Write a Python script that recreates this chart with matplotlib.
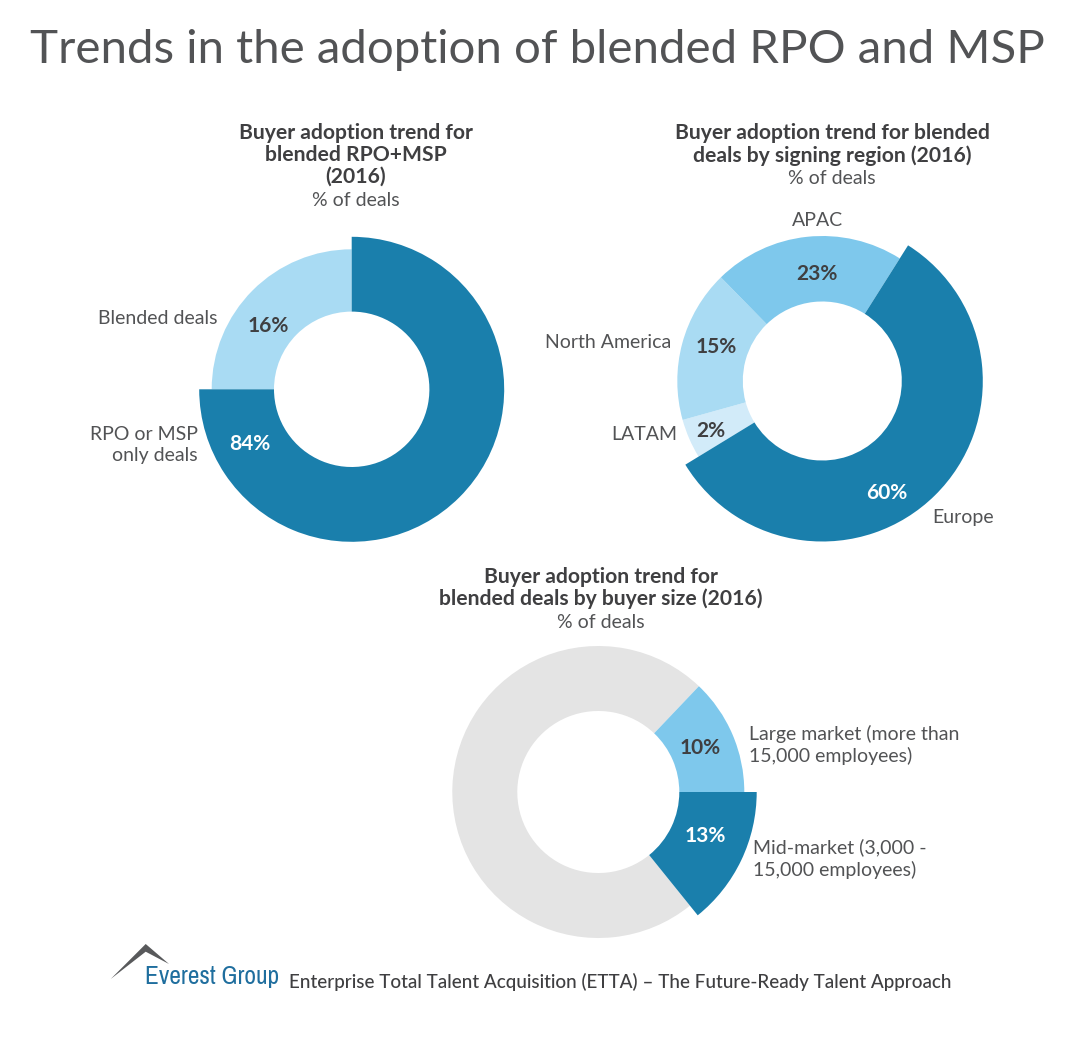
import matplotlib
matplotlib.use("Agg")
import matplotlib.pyplot as plt
from matplotlib.patches import Polygon
from matplotlib import font_manager as fm

W, H = 1083, 1048
DARK, LIGHT, MID, PALE, GREY = "#1A7FAC", "#A9DBF3", "#7EC8EC", "#D2EBF9", "#E4E4E4"
INK, SOFT = "#3F3F41", "#525355"

# Arc shares as drawn in the picture (percent of the circle) and the printed labels
buyer_shares = [75.0, 25.0]
buyer_labels = ["84%", "16%"]
region_names = ["Europe", "LATAM", "North America", "APAC"]
region_shares = [57.3, 4.4, 17.0, 21.3]
region_labels = ["60%", "2%", "15%", "23%"]
size_shares = [14.2, 72.9, 12.9]
size_labels = ["13%", "", "10%"]

plt.rcParams["font.family"] = ["Lato", "DejaVu Sans"]
fig = plt.figure(figsize=(W / 100, H / 100), dpi=100, facecolor="white")
ax = fig.add_axes([0, 0, 1, 1])


def donut(values, colors, radii, inner, cx, cy, start):
    wedges, _ = ax.pie(values, colors=colors, center=(cx, H - cy), startangle=start,
                       counterclock=False, frame=True)
    for w, r in zip(wedges, radii):
        w.set_radius(r)
        w.set_width(r - inner)
        w.set_linewidth(0)
    return wedges


def txt(x, y, s, size=14.0, color=SOFT, ha="center", weight="regular", **kw):
    return ax.text(x, H - y, s, fontsize=size, color=color, ha=ha, va="center", fontweight=weight, **kw)


def head(cx, rows):
    for y, s, b in rows:
        if b:
            txt(cx, y + 1, s, size=15.2, color=INK, weight="bold")
        else:
            txt(cx, y + 1, s)


def fit_width(t, target):
    r = fig.canvas.get_renderer()
    t.set_fontsize(t.get_fontsize() * target / t.get_window_extent(r).width)


w1 = donut(buyer_shares, [DARK, LIGHT], [152.5, 140], 77.7, 351.7, 389.3, 90)
w2 = donut(region_shares, [DARK, PALE, LIGHT, MID], [160.5, 145, 145, 145], 79.5, 822.3, 381, 90 - 32.3)
w3 = donut(size_shares, [DARK, GREY, MID], [158.4, 146, 146], 81, 598.3, 792, 0)
for w in w1[:1] + w2[:1] + w3[:1]:
    w.set_zorder(3)

ax.set_xlim(0, W)
ax.set_ylim(0, H)
ax.set_aspect("equal")
ax.axis("off")

fit_width(txt(537, 50, "Trends in the adoption of blended RPO and MSP", size=35), 1012)

head(356, [(132, "Buyer adoption trend for", True), (154, "blended RPO+MSP", True),
           (176, "(2016)", True), (199, "% of deals", False)])
head(832, [(132, "Buyer adoption trend for blended", True),
           (155, "deals by signing region (2016)", True), (177, "% of deals", False)])
head(601, [(576, "Buyer adoption trend for", True),
           (598, "blended deals by buyer size (2016)", True), (621, "% of deals", False)])

txt(217, 319, "Blended deals", ha="right")
txt(198, 434, "RPO or MSP", ha="right")
txt(198, 456, "only deals", ha="right")
txt(932, 518, region_names[0], ha="left")
txt(677, 435, region_names[1], ha="right")
txt(671, 343, region_names[2], ha="right")
txt(818, 220, region_names[3])
txt(749, 734, "Large market (more than", ha="left")
txt(749, 756, "15,000 employees)", ha="left")
txt(753, 847, "Mid-market (3,000 -", ha="left")
txt(753, 870, "15,000 employees)", ha="left")


def pct(x, y, s, color=INK):
    ax.text(x, H - y - 1, s, fontsize=15, color=color, ha="center", va="center", fontweight="bold", zorder=5)


pct(250, 443, buyer_labels[0], "white")
pct(268, 325, buyer_labels[1])
pct(887, 492, region_labels[0], "white")
pct(711, 430, region_labels[1])
pct(716, 346, region_labels[2])
pct(817, 273, region_labels[3])
pct(705, 835, size_labels[0], "white")
pct(700, 747, size_labels[2])

# Logo and footer
ax.add_patch(Polygon([(110.7, H - 979), (145.7, H - 944), (169, H - 964), (145.7, H - 951.7)],
                     closed=True, facecolor="#58595B", edgecolor="none"))
installed = {f.name for f in fm.fontManager.ttflist}
narrow = sorted(n for n in installed if "Narrow" in n or "Condensed" in n)
logo = ax.text(145, H - 977, "Everest Group", fontsize=20, color="#1F6E9E", ha="left", va="center",
               family=[(narrow[0] if narrow else "Liberation Sans"), "DejaVu Sans"])
fit_width(logo, 134)
txt(289, 982, "Enterprise Total Talent Acquisition (ETTA) \u2013 The Future-Ready Talent Approach",
    size=13.6, color=INK, ha="left", weight="medium")

fig.savefig("out.png", dpi=100, facecolor="white")
